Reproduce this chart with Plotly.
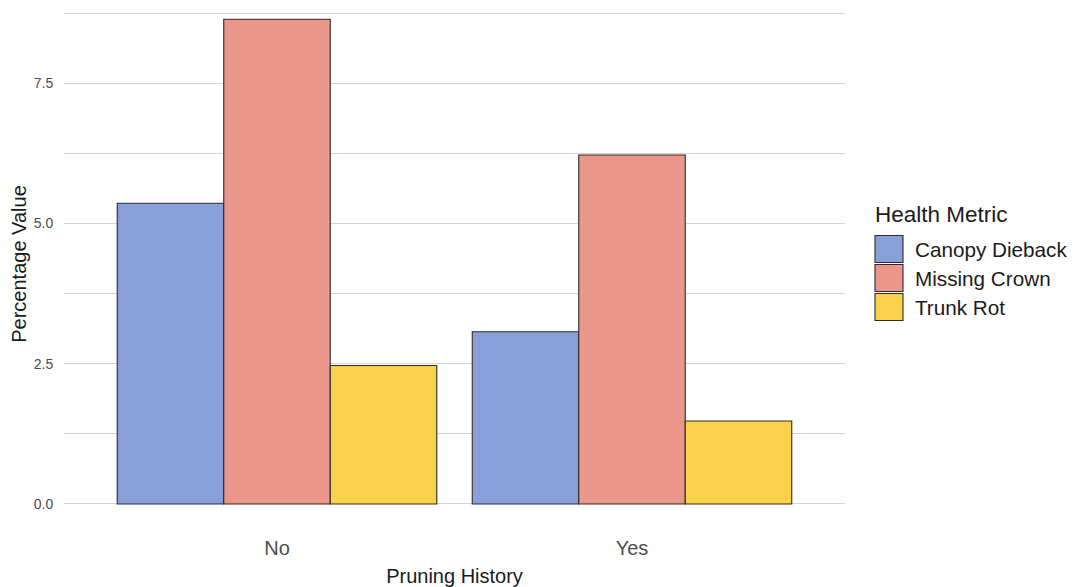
import plotly.graph_objects as go

categories = ["No", "Yes"]
metrics = ["Canopy Dieback", "Missing Crown", "Trunk Rot"]
canopy_dieback = [5.36, 3.07]
missing_crown = [8.64, 6.22]
trunk_rot = [2.47, 1.48]
colors = ["#889FDA", "#EB968A", "#F9D14A"]
y_tickvals = [0, 2.5, 5.0, 7.5]
y_ticktext = ["0.0", "2.5", "5.0", "7.5"]

series = [canopy_dieback, missing_crown, trunk_rot]

W, H = 1073, 587
L, R, T, B = 64, 845, 0, 528  # plot area in px

fig = go.Figure()
for name, vals, col in zip(metrics, series, colors):
    fig.add_trace(go.Bar(
        x=categories, y=vals, name=name,
        marker=dict(color=col, line=dict(color="#2b2b2b", width=1.1)),
        showlegend=False,
    ))

def px_x(p):
    return (p - L) / (R - L)

def px_y(p):
    return (B - p) / (B - T)

# manual legend (ggplot-style large keys)
shapes = []
annotations = []
annotations.append(dict(x=px_x(873), y=px_y(214), xref="paper", yref="paper",
                        text="Health Metric", showarrow=False, xanchor="left",
                        yanchor="middle", font=dict(size=22.5, color="#1a1a1a")))
key_tops = [235.5, 264.5, 293.5]
for name, col, top in zip(metrics, colors, key_tops):
    shapes.append(dict(type="rect", xref="paper", yref="paper",
                       x0=px_x(875), x1=px_x(903), y0=px_y(top + 27), y1=px_y(top),
                       fillcolor=col, line=dict(color="#2b2b2b", width=1.1)))
    annotations.append(dict(x=px_x(913), y=px_y(top + 14), xref="paper", yref="paper",
                            text=name, showarrow=False, xanchor="left", yanchor="middle",
                            font=dict(size=20.7, color="#1a1a1a")))

fig.update_layout(
    width=W, height=H,
    margin=dict(l=L, r=W - R, t=T, b=H - B, pad=0, autoexpand=False),
    paper_bgcolor="white", plot_bgcolor="white",
    font=dict(family="Liberation Sans, Arial, sans-serif", color="#1a1a1a"),
    barmode="group", bargap=0.1, bargroupgap=0,
    shapes=shapes, annotations=annotations,
    showlegend=False,
)
fig.update_xaxes(
    range=[-0.6, 1.6], showgrid=False, zeroline=False, showline=False,
    ticks="outside", ticklen=2, tickcolor="rgba(0,0,0,0)",
    tickfont=dict(size=20, color="#4d4d4d"),
    title=dict(text="Pruning History", font=dict(size=20, color="#1a1a1a"), standoff=11),
    automargin=False,
)
fig.update_yaxes(
    range=[-0.428, 8.984], tickvals=y_tickvals, ticktext=y_ticktext,
    showgrid=True, gridcolor="#d4d4d4", gridwidth=1.2,
    minor=dict(dtick=1.25, tick0=1.25, showgrid=True, gridcolor="#d4d4d4", gridwidth=1.2),
    zeroline=False, showline=False,
    ticks="outside", ticklen=7, tickcolor="rgba(0,0,0,0)",
    tickfont=dict(size=14, color="#4d4d4d"),
    title=dict(text="Percentage Value", font=dict(size=20, color="#1a1a1a"), standoff=1),
    automargin=False,
)

fig.write_html("out.html", config={"displayModeBar": False},
               post_script="document.body.style.margin='0';document.body.style.overflow='hidden';")
